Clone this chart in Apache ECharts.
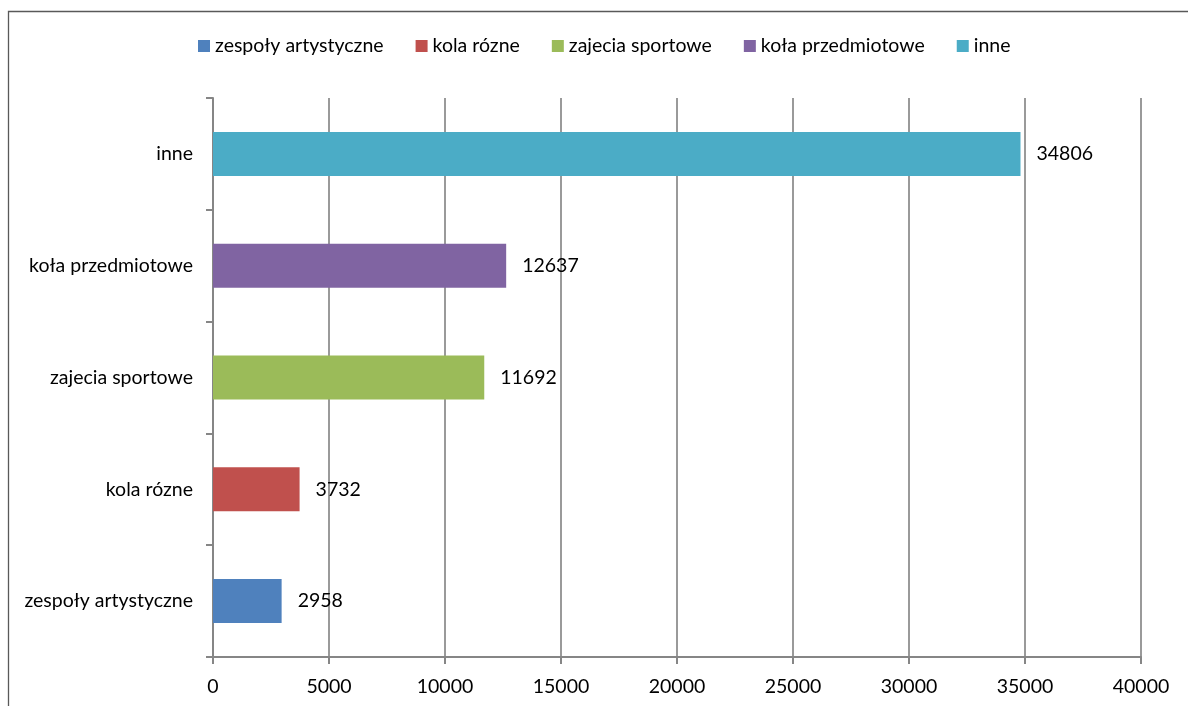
<!DOCTYPE html>
<html><head><meta charset="utf-8">
<script src="https://cdn.jsdelivr.net/npm/echarts@6/dist/echarts.min.js"></script>
<style>html,body{margin:0;padding:0;background:#fff}#c{width:1188px;height:706px}</style>
</head><body><div id="c"></div>
<script>
var categories = ['zespoły artystyczne', 'kola rózne', 'zajecia sportowe', 'koła przedmiotowe', 'inne'];
var values = [2958, 3732, 11692, 12637, 34806];
var colors = ['#4F81BD', '#C0504D', '#9BBB59', '#8064A2', '#4BACC6'];
var xTicks = { min: 0, max: 40000, interval: 5000 };

var font = 'Lato, "Noto Sans", sans-serif';
var fs = 19.5;
var series = categories.map(function (name, i) {
  return {
    name: name,
    type: 'bar',
    stack: 'all',
    barWidth: 44,
    itemStyle: { color: colors[i] },
    label: { show: true, position: 'right', distance: 16, color: '#000', fontSize: fs, fontFamily: font },
    data: categories.map(function (c, j) { return j === i ? values[i] : null; })
  };
});

var chart = echarts.init(document.getElementById('c'), null, { renderer: 'canvas' });
chart.setOption({
  animation: false,
  backgroundColor: '#fff',
  textStyle: { fontFamily: font },
  graphic: [{ type: 'rect', shape: { x: 8.5, y: 11.5, width: 1400, height: 900 }, style: { fill: null, stroke: '#595959', lineWidth: 1.3 }, silent: true }],
  legend: {
    left: 193, top: 31, itemWidth: 12, itemHeight: 12, itemGap: 32,
    icon: 'rect',
    textStyle: { fontSize: fs, color: '#000', fontFamily: font },
    data: categories
  },
  grid: { left: 213, right: 47, top: 98, bottom: 49, containLabel: false },
  xAxis: {
    type: 'value', min: xTicks.min, max: xTicks.max, interval: xTicks.interval,
    axisLine: { show: true, lineStyle: { color: '#868686', width: 2 } },
    axisTick: { show: true, length: 7, lineStyle: { color: '#868686', width: 2 } },
    splitLine: { show: true, lineStyle: { color: '#9a9a9a', width: 2 } },
    axisLabel: { fontSize: fs, color: '#000', margin: 20, fontFamily: font, formatter: function (v) { return String(v); } }
  },
  yAxis: {
    type: 'category', data: categories,
    axisLine: { show: true, lineStyle: { color: '#868686', width: 2 } },
    axisTick: { show: true, length: 7, lineStyle: { color: '#868686', width: 2 } },
    axisLabel: { fontSize: fs, color: '#000', margin: 20, fontFamily: font }
  },
  series: series
});
</script></body></html>
